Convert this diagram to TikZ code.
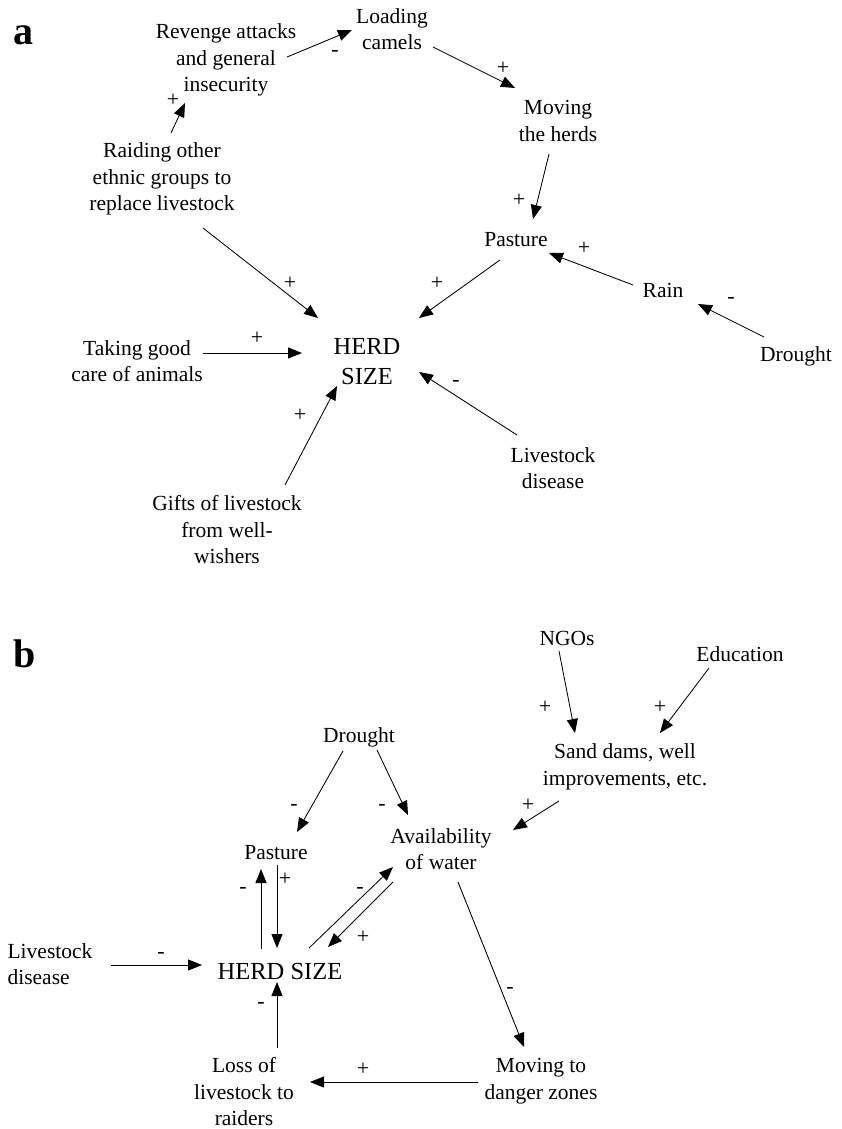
\documentclass[tikz,border=0pt]{standalone}
\usepackage{fontspec}
\setmainfont{Liberation Serif}
\usepackage{tikz}
\usetikzlibrary{arrows.meta}

\begin{document}
\begin{tikzpicture}[x=1pt, y=-1pt,
      box/.style={inner sep=0pt, align=center, font=\fontsize{21.5}{26.5}\selectfont},
      herd/.style={inner sep=0pt, align=center, font=\fontsize{24.5}{30}\selectfont},
      sign/.style={inner sep=0pt, font=\fontsize{22}{24}\selectfont},
      panel/.style={inner sep=0pt, anchor=base west, font=\fontsize{40}{40}\selectfont\bfseries},
      arr/.style={line width=0.85pt, -{Triangle[length=14pt, width=11pt]}}]
      \useasboundingbox (0,0) rectangle (841,1129);

      % panel a
      \node[panel] (labA) at (13,45) {a};
      \node[box] (revenge) at (226,60) {Revenge attacks\\and general\\insecurity};
      \node[box] (loading) at (392,29) {Loading\\camels};
      \node[box] (moving) at (558,121) {Moving\\the herds};
      \node[box] (pastureA) at (516,240) {Pasture};
      \node[box] (rain) at (663,290) {Rain};
      \node[box] (droughtA) at (796,356) {Drought};
      \node[box] (raiding) at (162,179) {Raiding other\\ethnic groups to\\replace livestock};
      \node[herd] (herdA) at (367,362) {HERD\\SIZE};
      \node[box] (taking) at (137,361) {Taking good\\care of animals};
      \node[box] (gifts) at (227,530) {Gifts of livestock\\from well-\\wishers};
      \node[box] (diseaseA) at (553,468) {Livestock\\disease};

      \draw[arr] ([shift={(61,-3)}]revenge.center) -- ([shift={(-40,1)}]loading.center);
      \draw[arr] ([shift={(9,-46)}]raiding.center) -- ([shift={(-41,43)}]revenge.center);
      \draw[arr] ([shift={(41,18)}]loading.center) -- ([shift={(-43,-33)}]moving.center);
      \draw[arr] ([shift={(-9,33)}]moving.center) -- ([shift={(17,-21)}]pastureA.center);
      \draw[arr] ([shift={(-30,-5)}]rain.center) -- ([shift={(33,13)}]pastureA.center);
      \draw[arr] ([shift={(-32,-19)}]droughtA.center) -- ([shift={(35,14)}]rain.center);
      \draw[arr] ([shift={(-16,20)}]pastureA.center) -- ([shift={(52,-44)}]herdA.center);
      \draw[arr] ([shift={(41,49)}]raiding.center) -- ([shift={(-49,-44)}]herdA.center);
      \draw[arr] ([shift={(66,-8)}]taking.center) -- ([shift={(-65,-9)}]herdA.center);
      \draw[arr] ([shift={(58,-45)}]gifts.center) -- ([shift={(-30,24)}]herdA.center);
      \draw[arr] ([shift={(-36,-33)}]diseaseA.center) -- ([shift={(52,10)}]herdA.center);

      \node[sign] (sA1) at (335,53) {-};
      \node[sign] (sA2) at (173,100) {+};
      \node[sign] (sA3) at (503,68) {+};
      \node[sign] (sA4) at (519,200) {+};
      \node[sign] (sA5) at (584,248) {+};
      \node[sign] (sA6) at (731,300) {-};
      \node[sign] (sA7) at (437,283) {+};
      \node[sign] (sA8) at (290,283) {+};
      \node[sign] (sA9) at (257,338) {+};
      \node[sign] (sA10) at (300,415) {+};
      \node[sign] (sA11) at (456,383) {-};

      % panel b
      \node[panel] (labB) at (13,667) {b};
      \node[box] (ngos) at (567,638) {NGOs};
      \node[box] (education) at (740,654) {Education};
      \node[box] (droughtB) at (359,737) {Drought};
      \node[box] (sand) at (625,767) {Sand dams, well\\improvements, etc.};
      \node[box] (pastureB) at (276,853) {Pasture};
      \node[box] (water) at (441,849) {Availability\\of water};
      \node[box, align=left] (diseaseB) at (50,964) {Livestock\\disease};
      \node[herd] (herdB) at (280,971) {HERD SIZE};
      \node[box] (loss) at (244,1092) {Loss of\\livestock to\\raiders};
      \node[box] (movingB) at (541,1081) {Moving to\\danger zones};

      \draw[arr] ([shift={(-8,13)}]ngos.center) -- ([shift={(-50,-34)}]sand.center);
      \draw[arr] ([shift={(-31,14)}]education.center) -- ([shift={(35,-34)}]sand.center);
      \draw[arr] ([shift={(-16,14)}]droughtB.center) -- ([shift={(21,-21)}]pastureB.center);
      \draw[arr] ([shift={(18,13)}]droughtB.center) -- ([shift={(-33,-34)}]water.center);
      \draw[arr] ([shift={(-66,34)}]sand.center) -- ([shift={(72,-19)}]water.center);
      \draw[arr] ([shift={(-19,-22)}]herdB.center) -- ([shift={(-15,16)}]pastureB.center);
      \draw[arr] ([shift={(1,12)}]pastureB.center) -- ([shift={(-3,-23)}]herdB.center);
      \draw[arr] ([shift={(29,-23)}]herdB.center) -- ([shift={(-48,18)}]water.center);
      \draw[arr] ([shift={(-48,33)}]water.center) -- ([shift={(48,-24)}]herdB.center);
      \draw[arr] ([shift={(61,1)}]diseaseB.center) -- ([shift={(-78,-6)}]herdB.center);
      \draw[arr] ([shift={(33,-44)}]loss.center) -- ([shift={(-3,11)}]herdB.center);
      \draw[arr] ([shift={(17,33)}]water.center) -- ([shift={(-17,-34)}]movingB.center);
      \draw[arr] ([shift={(-63,1)}]movingB.center) -- ([shift={(66,-10)}]loss.center);

      \node[sign] (sB1) at (545,707) {+};
      \node[sign] (sB2) at (660,707) {+};
      \node[sign] (sB3) at (294,807) {-};
      \node[sign] (sB4) at (382,807) {-};
      \node[sign] (sB5) at (528,805) {+};
      \node[sign] (sB6) at (243,890) {-};
      \node[sign] (sB7) at (285,879) {+};
      \node[sign] (sB8) at (360,890) {-};
      \node[sign] (sB9) at (363,937) {+};
      \node[sign] (sB10) at (161,955) {-};
      \node[sign] (sB11) at (261,1005) {-};
      \node[sign] (sB12) at (510,990) {-};
      \node[sign] (sB13) at (363,1069) {+};
    \end{tikzpicture}
\end{document}
